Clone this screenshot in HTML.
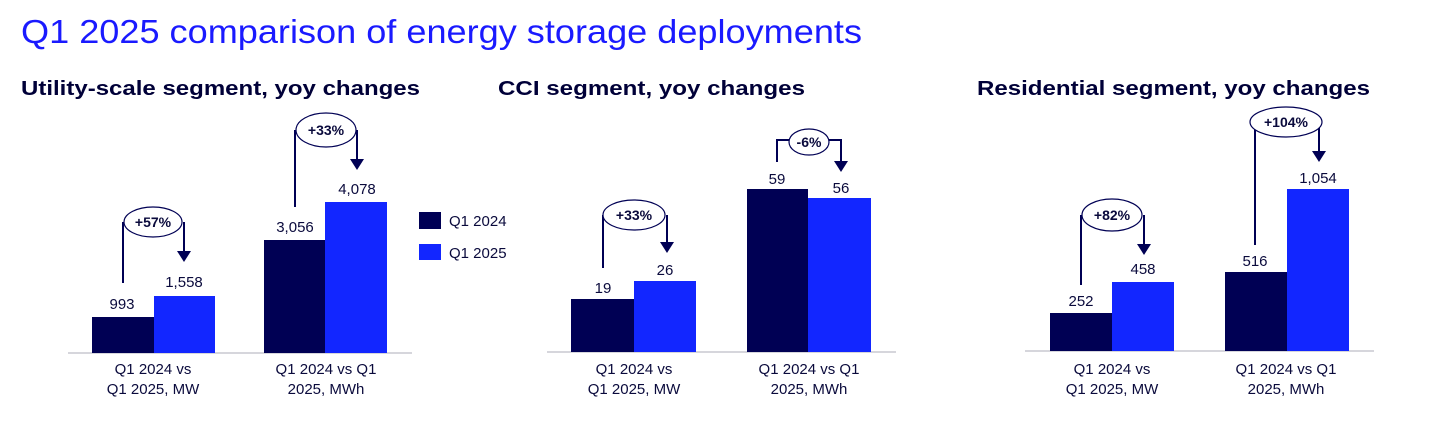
<!DOCTYPE html>
<html><head><meta charset="utf-8"><style>
html,body{margin:0;padding:0;background:#fff;}
svg{display:block;font-family:"Liberation Sans",Arial,sans-serif;}
.v{font-size:15px;fill:#0a0a3c;text-anchor:middle;}
.c{font-size:15px;fill:#0a0a3c;text-anchor:middle;}
.p{font-size:14px;font-weight:bold;fill:#0a0a3c;text-anchor:middle;}
.s{font-size:20px;font-weight:bold;fill:#000038;}
.ln{stroke:#000054;stroke-width:2;fill:none;}
.el{stroke:#000054;stroke-width:1.2;fill:#fff;}
</style></head><body>
<svg width="1430" height="429" viewBox="0 0 1430 429">
<text x="21" y="43" font-size="33" fill="#1a1aff" textLength="841" lengthAdjust="spacingAndGlyphs">Q1 2025 comparison of energy storage deployments</text>
<text class="s" x="21" y="95" textLength="399" lengthAdjust="spacingAndGlyphs">Utility-scale segment, yoy changes</text>
<text class="s" x="498" y="95" textLength="307" lengthAdjust="spacingAndGlyphs">CCI segment, yoy changes</text>
<text class="s" x="977" y="95" textLength="393" lengthAdjust="spacingAndGlyphs">Residential segment, yoy changes</text>

<!-- Chart 1 -->
<line x1="68" y1="353" x2="412" y2="353" stroke="#c8c8d0" stroke-width="1.5"/>
<rect x="92" y="317" width="62" height="36" fill="#000054"/>
<rect x="154" y="296" width="61" height="57" fill="#1226ff"/>
<rect x="264" y="240" width="61" height="113" fill="#000054"/>
<rect x="325" y="202" width="62" height="151" fill="#1226ff"/>
<text class="v" x="122" y="309">993</text>
<text class="v" x="184" y="287">1,558</text>
<text class="v" x="295" y="232">3,056</text>
<text class="v" x="357" y="194">4,078</text>
<path class="ln" d="M123 283 V222 M184 222 V252"/>
<polygon points="177,251 191,251 184,262" fill="#000054"/>
<ellipse class="el" cx="153" cy="222" rx="29" ry="15"/>
<text class="p" x="153" y="227">+57%</text>
<path class="ln" d="M295 207 V130 M357 130 V160"/>
<polygon points="350,159 364,159 357,170" fill="#000054"/>
<ellipse class="el" cx="326" cy="130" rx="30" ry="17"/>
<text class="p" x="326" y="135">+33%</text>
<text class="c" x="153" y="374">Q1 2024 vs</text>
<text class="c" x="153" y="394">Q1 2025, MW</text>
<text class="c" x="326" y="374">Q1 2024 vs Q1</text>
<text class="c" x="326" y="394">2025, MWh</text>
<rect x="419" y="212" width="22" height="17" fill="#000054"/>
<rect x="419" y="244" width="22" height="16" fill="#1226ff"/>
<text x="449" y="226" font-size="15" fill="#0a0a3c">Q1 2024</text>
<text x="449" y="258" font-size="15" fill="#0a0a3c">Q1 2025</text>

<!-- Chart 2 -->
<line x1="547" y1="352" x2="896" y2="352" stroke="#c8c8d0" stroke-width="1.5"/>
<rect x="571" y="299" width="63" height="53" fill="#000054"/>
<rect x="634" y="281" width="62" height="71" fill="#1226ff"/>
<rect x="747" y="189" width="61" height="163" fill="#000054"/>
<rect x="808" y="198" width="63" height="154" fill="#1226ff"/>
<text class="v" x="603" y="293">19</text>
<text class="v" x="665" y="275">26</text>
<text class="v" x="777" y="184">59</text>
<text class="v" x="841" y="193">56</text>
<path class="ln" d="M603 268 V215 M667 215 V243"/>
<polygon points="660,242 674,242 667,253" fill="#000054"/>
<ellipse class="el" cx="634" cy="215" rx="31" ry="15"/>
<text class="p" x="634" y="220">+33%</text>
<path class="ln" d="M777 162 V140 H790 M828 140 H841 V162"/>
<polygon points="834,161 848,161 841,172" fill="#000054"/>
<ellipse class="el" cx="809" cy="142" rx="20" ry="13"/>
<text class="p" x="809" y="147">-6%</text>
<text class="c" x="634" y="374">Q1 2024 vs</text>
<text class="c" x="634" y="394">Q1 2025, MW</text>
<text class="c" x="809" y="374">Q1 2024 vs Q1</text>
<text class="c" x="809" y="394">2025, MWh</text>

<!-- Chart 3 -->
<line x1="1025" y1="351" x2="1374" y2="351" stroke="#c8c8d0" stroke-width="1.5"/>
<rect x="1050" y="313" width="62" height="38" fill="#000054"/>
<rect x="1112" y="282" width="62" height="69" fill="#1226ff"/>
<rect x="1225" y="272" width="62" height="79" fill="#000054"/>
<rect x="1287" y="189" width="62" height="162" fill="#1226ff"/>
<text class="v" x="1081" y="306">252</text>
<text class="v" x="1143" y="274">458</text>
<text class="v" x="1255" y="266">516</text>
<text class="v" x="1318" y="183">1,054</text>
<path class="ln" d="M1081 285 V215 M1144 215 V245"/>
<polygon points="1137,244 1151,244 1144,255" fill="#000054"/>
<ellipse class="el" cx="1112" cy="215" rx="30" ry="16"/>
<text class="p" x="1112" y="220">+82%</text>
<path class="ln" d="M1255 245 V122 M1319 122 V152"/>
<polygon points="1312,151 1326,151 1319,162" fill="#000054"/>
<ellipse class="el" cx="1286" cy="122" rx="36" ry="15"/>
<text class="p" x="1286" y="127">+104%</text>
<text class="c" x="1112" y="374">Q1 2024 vs</text>
<text class="c" x="1112" y="394">Q1 2025, MW</text>
<text class="c" x="1286" y="374">Q1 2024 vs Q1</text>
<text class="c" x="1286" y="394">2025, MWh</text>
</svg>
</body></html>
